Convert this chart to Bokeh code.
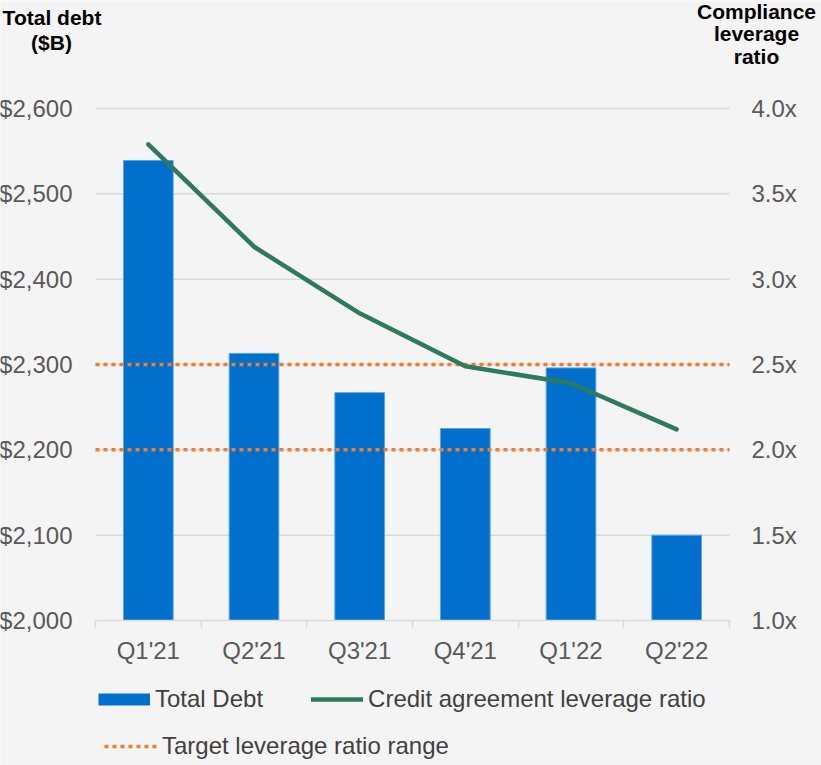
from bokeh.plotting import figure
from bokeh.models import (Range1d, LinearAxis, FixedTicker, NumeralTickFormatter,
                          PrintfTickFormatter, Legend, LegendItem, Label, ColumnDataSource)
from bokeh.embed import file_html
from bokeh.resources import INLINE

# ---- data ----
quarters = ["Q1'21", "Q2'21", "Q3'21", "Q4'21", "Q1'22", "Q2'22"]
total_debt = [2539, 2313, 2267, 2225, 2296, 2100]
leverage_ratio = [3.79, 3.19, 2.80, 2.49, 2.39, 2.12]
target_range = [2.0, 2.5]
debt_ticks = [2000, 2100, 2200, 2300, 2400, 2500, 2600]
ratio_ticks = [1.0, 1.5, 2.0, 2.5, 3.0, 3.5, 4.0]
left_title = ["Total debt", "($B)"]
right_title = ["Compliance", "leverage", "ratio"]

# ---- style / layout ----
FONT = "Liberation Sans"
BG = "#F4F4F4"
GRID = "#D9D9D9"
TICK_TXT = "#595959"
LEG_TXT = "#404040"
BLUE = "#0070CC"
GREEN = "#2E7A5E"
ORANGE = "#ED7D31"
W, H = 821, 765
FL, FR, FT, FB = 95, 729, 108, 620   # plot-area edges in canvas pixels
TXT = "24px"

n = len(quarters)
centers = [i + 0.5 for i in range(n)]
bounds = [float(i) for i in range(n + 1)]

px_x = (FR - FL) / n
px_d = (FB - FT) / (debt_ticks[-1] - debt_ticks[0])
px_r = (FB - FT) / (ratio_ticks[-1] - ratio_ticks[0])

p = figure(width=W, height=H, output_backend="svg", toolbar_location=None,
           x_range=Range1d(-FL / px_x, n + (W - FR) / px_x),
           y_range=Range1d(debt_ticks[0] - (H - FB) / px_d, debt_ticks[-1] + FT / px_d),
           min_border=0)
p.extra_y_ranges = {"ratio": Range1d(ratio_ticks[0] - (H - FB) / px_r,
                                     ratio_ticks[-1] + FT / px_r)}
p.background_fill_color = BG
p.border_fill_color = BG
p.outline_line_color = None
p.xgrid.visible = False
p.ygrid.visible = False

# horizontal gridlines across the plot area
grid_src = ColumnDataSource(dict(y=debt_ticks[1:], x0=[0] * (len(debt_ticks) - 1),
                                 x1=[n] * (len(debt_ticks) - 1)))
p.segment(x0="x0", x1="x1", y0="y", y1="y", source=grid_src, line_color=GRID, line_width=1.5)

# left axis
ya = p.yaxis[0]
ya.fixed_location = 0
ya.ticker = FixedTicker(ticks=debt_ticks)
ya.formatter = NumeralTickFormatter(format="$0,0")
ya.axis_line_color = None
ya.major_tick_line_color = None
ya.minor_tick_line_color = None
ya.major_tick_out = 0
ya.major_tick_in = 0
ya.major_label_standoff = 23
ya.major_label_text_font = FONT
ya.major_label_text_font_size = TXT
ya.major_label_text_color = TICK_TXT

# right axis
ra = LinearAxis(y_range_name="ratio", fixed_location=n, ticker=FixedTicker(ticks=ratio_ticks),
                formatter=PrintfTickFormatter(format="%.1fx"))
ra.axis_line_color = None
ra.major_tick_line_color = None
ra.minor_tick_line_color = None
ra.major_tick_out = 0
ra.major_tick_in = 0
ra.major_label_standoff = 22
ra.major_label_text_font = FONT
ra.major_label_text_font_size = TXT
ra.major_label_text_color = TICK_TXT
p.add_layout(ra, "right")

# category axis
xa = p.xaxis[0]
xa.fixed_location = debt_ticks[0]
xa.bounds = (0, n)
xa.ticker = FixedTicker(ticks=centers, minor_ticks=bounds)
xa.major_label_overrides = {c: q for c, q in zip(centers, quarters)}
xa.axis_line_color = GRID
xa.axis_line_width = 1.5
xa.major_tick_out = 0
xa.major_tick_in = 0
xa.major_tick_line_color = None
xa.minor_tick_out = 7
xa.minor_tick_in = 0
xa.minor_tick_line_color = GRID
xa.minor_tick_line_width = 1.5
xa.major_label_standoff = 9
xa.major_label_text_font = FONT
xa.major_label_text_font_size = TXT
xa.major_label_text_color = TICK_TXT

# data
src = ColumnDataSource(dict(x=centers, debt=total_debt, ratio=leverage_ratio))
p.vbar(x="x", top="debt", bottom=debt_ticks[0], width=0.47, source=src,
       fill_color=BLUE, line_color="#5AA3E6", line_width=1)

tgt_src = ColumnDataSource(dict(y=target_range, x0=[0] * len(target_range),
                                x1=[n] * len(target_range)))
tgt_r = p.segment(x0="x0", x1="x1", y0="y", y1="y", source=tgt_src, y_range_name="ratio",
                  line_color=ORANGE, line_width=3.5, line_dash="4 4")

line_r = p.line(x="x", y="ratio", source=src, y_range_name="ratio", line_color=GREEN,
                line_width=4.5, line_cap="round", line_join="round")

# legend swatch for the bars (not drawn in the plot)
bar_proxy = p.line(x=[float("nan")], y=[float("nan")], line_color=BLUE, line_width=12,
                   line_cap="butt")

common = dict(orientation="horizontal", padding=0, margin=0, border_line_color=None,
              background_fill_alpha=0, label_text_font=FONT, label_text_font_size=TXT,
              label_text_color=LEG_TXT, glyph_height=26, label_height=26)
leg1 = Legend(items=[LegendItem(label="Total Debt", renderers=[bar_proxy]),
                     LegendItem(label="Credit agreement leverage ratio", renderers=[line_r])],
              location=(98, H - 713), glyph_width=52, label_standoff=5, spacing=48, **common)
leg2 = Legend(items=[LegendItem(label="Target leverage ratio range", renderers=[tgt_r])],
              location=(104, H - 760), glyph_width=55, label_standoff=3, spacing=0, **common)
p.add_layout(leg1)
p.add_layout(leg2)

# axis titles
title_style = dict(x_units="screen", y_units="screen", text_font=FONT, text_font_style="bold",
                   text_font_size="21px", text_color="#000000", text_align="center",
                   text_baseline="alphabetic")
for txt, x, base in zip(left_title, [51.5, 51], [17, 41.7]):
    p.add_layout(Label(x=x, y=H - base, text=txt, **title_style))
for txt, base in zip(right_title, [10.5, 32.5, 56]):
    p.add_layout(Label(x=756, y=H - base, text=txt, **title_style))

open("out.html", "w").write(file_html(p, INLINE))
